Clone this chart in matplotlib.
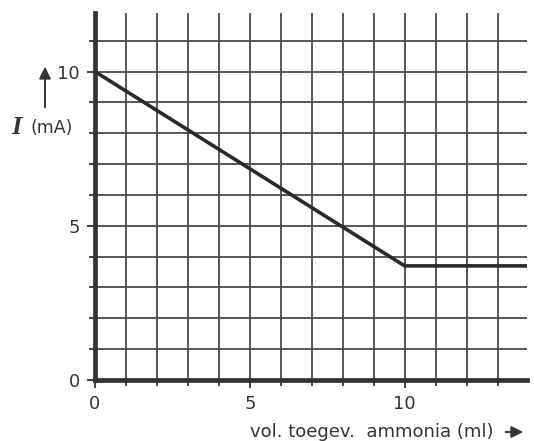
import numpy as np
import matplotlib.pyplot as plt
from matplotlib.ticker import MultipleLocator
from matplotlib.patches import FancyArrowPatch

# values
vol_ml = [0, 10, 14]          # added ammonia (ml)
current_ma = [10, 3.7, 3.7]   # current I (mA)
x_major = [0, 5, 10]
y_major = [0, 5, 10]

ink = '#333333'
grid_ink = '#4a4a4a'

fig = plt.figure(figsize=(5.34, 4.41), dpi=100)
W, H = 534, 441
ax = fig.add_axes([95 / W, 61 / H, 432 / W, 367 / H])

ax.set_xlim(0, 13.95)
ax.set_ylim(0, 11.9)

ax.set_xticks(x_major)
ax.set_yticks(y_major)
ax.xaxis.set_minor_locator(MultipleLocator(1))
ax.yaxis.set_minor_locator(MultipleLocator(1))

ax.grid(True, which='both', color=grid_ink, linewidth=1.3)
ax.set_axisbelow(True)

for s in ['top', 'right']:
    ax.spines[s].set_visible(False)
for s in ['left', 'bottom']:
    ax.spines[s].set_linewidth(3.4)
    ax.spines[s].set_color(ink)

ax.tick_params(which='major', length=6, width=1.3, color=ink, labelsize=13,
               labelcolor=ink, pad=5)
ax.tick_params(which='minor', length=4, width=1.3, color=ink)

ax.plot(vol_ml, current_ma, color='#2a2a2a', linewidth=2.6,
        solid_joinstyle='miter', clip_on=True, zorder=3)

# y label: arrow + I (mA)
fig.patches.append(FancyArrowPatch(
    (45 / W, 1 - 110 / H), (45 / W, 1 - 64 / H), transform=fig.transFigure,
    arrowstyle='-|>,head_length=7,head_width=3.5', color=ink, linewidth=1.4))
fig.text(11 / W, 1 - 128 / H, 'I', family='Liberation Serif', style='italic',
         weight='bold', fontsize=19, color=ink, va='center', ha='left')
fig.text(31 / W, 1 - 128 / H, '(mA)', fontsize=12.5, color=ink,
         va='center', ha='left')

# x label with arrow
fig.text(250 / W, 1 - 432 / H, 'vol. toegev.  ammonia (ml)', fontsize=13,
         color=ink, va='center', ha='left')
fig.patches.append(FancyArrowPatch(
    (503 / W, 1 - 432 / H), (526 / W, 1 - 432 / H), transform=fig.transFigure,
    arrowstyle='-|>,head_length=7,head_width=3.5', color=ink, linewidth=1.4))

fig.savefig('out.png', dpi=100)
